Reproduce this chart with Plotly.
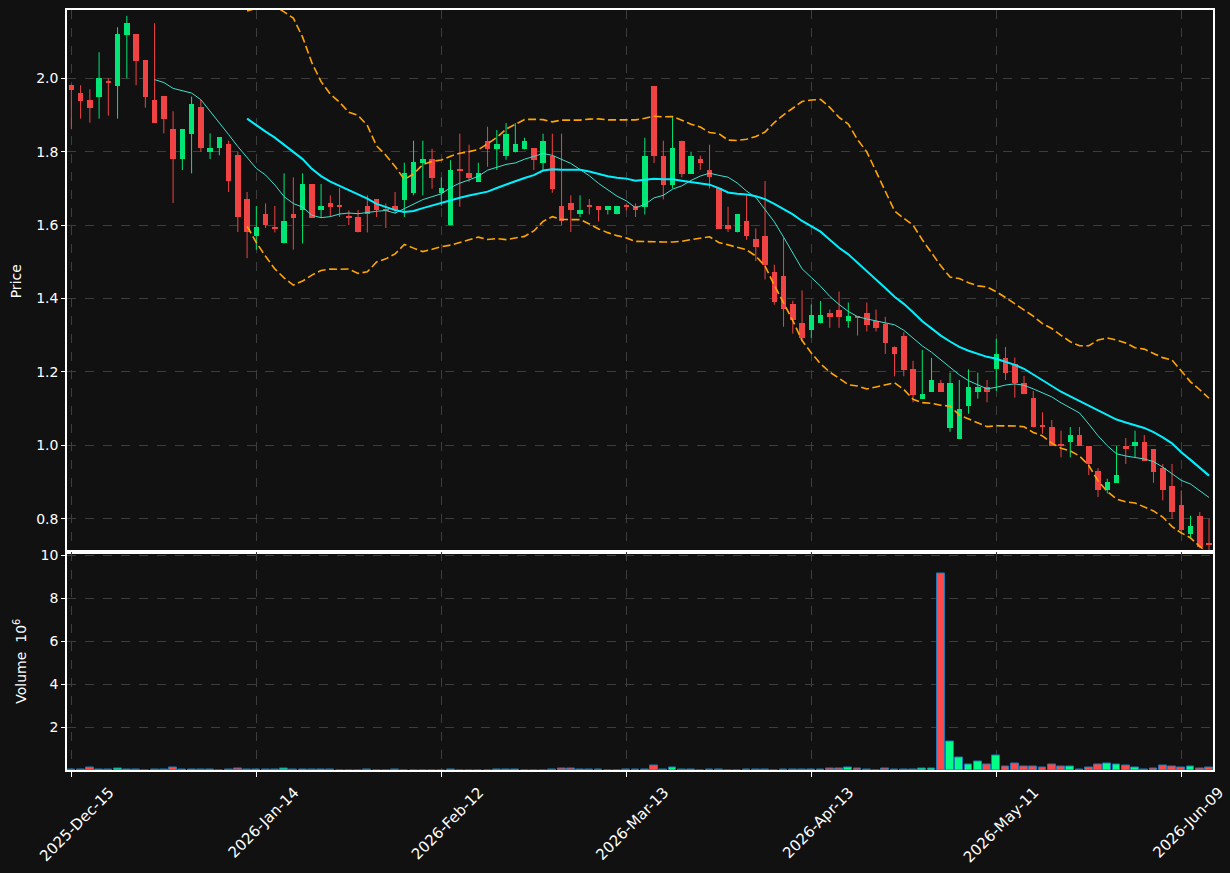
import pandas as pd
import plotly.graph_objects as go

# ---------------- data ----------------
holidays = ["2025-12-25", "2026-01-01", "2026-01-19", "2026-02-16", "2026-04-03", "2026-05-25"]
dates = [d for d in pd.bdate_range("2025-12-15", "2026-06-12") if d.strftime("%Y-%m-%d") not in holidays]

open_ = [1.982, 1.960, 1.941, 1.950, 1.990, 1.979, 2.118, 2.121, 2.050, 1.941,
         1.952, 1.862, 1.779, 1.849, 1.922, 1.800, 1.809, 1.821, 1.791, 1.672,
         1.569, 1.631, 1.593, 1.550, 1.631, 1.640, 1.712, 1.640, 1.660, 1.652,
         1.622, 1.622, 1.652, 1.670, 1.642, 1.652, 1.668, 1.688, 1.768, 1.779,
         1.688, 1.599, 1.751, 1.741, 1.718, 1.830, 1.806, 1.787, 1.798, 1.806,
         1.809, 1.769, 1.789, 1.652, 1.659, 1.629, 1.651, 1.651, 1.640, 1.629,
         1.651, 1.651, 1.650, 1.979, 1.789, 1.710, 1.830, 1.740, 1.779, 1.750,
         1.700, 1.600, 1.580, 1.611, 1.562, 1.571, 1.473, 1.462, 1.384, 1.332,
         1.313, 1.332, 1.360, 1.370, 1.339, 1.350, 1.360, 1.339, 1.330, 1.269,
         1.299, 1.207, 1.126, 1.146, 1.169, 1.047, 1.017, 1.107, 1.146, 1.159,
         1.207, 1.239, 1.221, 1.171, 1.130, 1.051, 1.051, 1.001, 1.008, 1.029,
         0.998, 0.929, 0.879, 0.898, 0.999, 0.998, 1.010, 0.990, 0.938, 0.890,
         0.837, 0.759, 0.808, 0.730]
high = [1.983, 1.981, 1.970, 2.071, 2.000, 2.139, 2.170, 2.121, 2.050, 2.150,
        1.952, 1.910, 1.862, 1.950, 1.941, 1.850, 1.840, 1.830, 1.800, 1.690,
        1.652, 1.659, 1.652, 1.741, 1.730, 1.741, 1.712, 1.712, 1.681, 1.701,
        1.640, 1.641, 1.681, 1.670, 1.659, 1.690, 1.770, 1.830, 1.830, 1.808,
        1.730, 1.777, 1.849, 1.819, 1.770, 1.868, 1.859, 1.878, 1.878, 1.838,
        1.809, 1.849, 1.849, 1.849, 1.681, 1.681, 1.671, 1.651, 1.651, 1.651,
        1.659, 1.659, 1.838, 1.979, 1.830, 1.897, 1.830, 1.800, 1.789, 1.819,
        1.700, 1.650, 1.630, 1.681, 1.591, 1.720, 1.492, 1.565, 1.394, 1.422,
        1.384, 1.393, 1.370, 1.419, 1.389, 1.350, 1.389, 1.370, 1.350, 1.269,
        1.308, 1.230, 1.260, 1.238, 1.178, 1.198, 1.178, 1.207, 1.198, 1.178,
        1.290, 1.268, 1.239, 1.189, 1.148, 1.090, 1.069, 1.040, 1.050, 1.050,
        0.998, 0.938, 0.909, 0.998, 1.020, 1.040, 1.028, 0.990, 0.949, 0.949,
        0.877, 0.808, 0.818, 0.800]
low = [1.861, 1.890, 1.879, 1.890, 1.898, 1.890, 2.000, 1.981, 1.920, 1.879,
       1.850, 1.660, 1.750, 1.741, 1.800, 1.780, 1.790, 1.690, 1.581, 1.510,
       1.533, 1.592, 1.580, 1.550, 1.533, 1.550, 1.620, 1.620, 1.622, 1.622,
       1.600, 1.580, 1.580, 1.622, 1.592, 1.631, 1.622, 1.681, 1.681, 1.699,
       1.652, 1.599, 1.650, 1.718, 1.718, 1.759, 1.750, 1.778, 1.798, 1.806,
       1.750, 1.750, 1.688, 1.599, 1.581, 1.622, 1.629, 1.610, 1.629, 1.629,
       1.640, 1.622, 1.629, 1.769, 1.670, 1.700, 1.730, 1.740, 1.750, 1.700,
       1.590, 1.581, 1.580, 1.560, 1.502, 1.452, 1.383, 1.323, 1.304, 1.284,
       1.293, 1.332, 1.320, 1.320, 1.320, 1.299, 1.310, 1.310, 1.249, 1.188,
       1.188, 1.117, 1.126, 1.146, 1.146, 1.037, 1.017, 1.086, 1.127, 1.117,
       1.148, 1.178, 1.130, 1.139, 1.049, 1.031, 0.998, 0.967, 0.967, 0.998,
       0.919, 0.859, 0.869, 0.898, 0.949, 0.967, 0.957, 0.898, 0.850, 0.800,
       0.759, 0.750, 0.719, 0.714]
close = [1.968, 1.939, 1.919, 2.001, 1.988, 2.121, 2.151, 2.047, 1.950, 1.879,
         1.890, 1.779, 1.862, 1.930, 1.809, 1.810, 1.840, 1.719, 1.621, 1.580,
         1.594, 1.599, 1.592, 1.612, 1.620, 1.712, 1.620, 1.652, 1.650, 1.651,
         1.621, 1.580, 1.629, 1.641, 1.641, 1.641, 1.741, 1.771, 1.779, 1.729,
         1.701, 1.750, 1.749, 1.729, 1.741, 1.806, 1.820, 1.849, 1.820, 1.830,
         1.777, 1.830, 1.698, 1.610, 1.640, 1.641, 1.650, 1.640, 1.651, 1.651,
         1.650, 1.640, 1.789, 1.789, 1.710, 1.809, 1.740, 1.789, 1.769, 1.730,
         1.590, 1.590, 1.630, 1.569, 1.540, 1.491, 1.391, 1.372, 1.342, 1.293,
         1.354, 1.354, 1.350, 1.350, 1.351, 1.349, 1.328, 1.320, 1.279, 1.248,
         1.206, 1.138, 1.139, 1.178, 1.146, 1.169, 1.098, 1.159, 1.159, 1.146,
         1.250, 1.198, 1.171, 1.139, 1.049, 1.050, 0.998, 0.999, 1.029, 0.998,
         0.949, 0.879, 0.899, 0.919, 0.989, 1.010, 0.957, 0.927, 0.879, 0.818,
         0.768, 0.779, 0.723, 0.729]
# volume in millions
volume = [0.02, 0.02, 0.13, 0.02, 0.02, 0.05, 0.02, 0.02, 0.00, 0.02,
          0.02, 0.13, 0.02, 0.02, 0.02, 0.02, 0.00, 0.02, 0.06, 0.02,
          0.02, 0.02, 0.02, 0.06, 0.02, 0.02, 0.02, 0.02, 0.02, 0.00,
          0.00, 0.00, 0.02, 0.00, 0.00, 0.02, 0.00, 0.00, 0.00, 0.00,
          0.00, 0.02, 0.00, 0.00, 0.00, 0.00, 0.02, 0.02, 0.02, 0.00,
          0.00, 0.00, 0.02, 0.06, 0.06, 0.02, 0.02, 0.02, 0.00, 0.00,
          0.02, 0.02, 0.02, 0.22, 0.02, 0.13, 0.02, 0.02, 0.00, 0.02,
          0.02, 0.00, 0.00, 0.02, 0.02, 0.02, 0.00, 0.02, 0.02, 0.02,
          0.02, 0.02, 0.08, 0.08, 0.13, 0.08, 0.02, 0.00, 0.08, 0.02,
          0.02, 0.02, 0.08, 0.08, 9.15, 1.33, 0.59, 0.26, 0.40, 0.26,
          0.68, 0.17, 0.31, 0.17, 0.17, 0.12, 0.26, 0.17, 0.17, 0.03,
          0.12, 0.26, 0.31, 0.26, 0.22, 0.12, 0.03, 0.08, 0.22, 0.17,
          0.12, 0.17, 0.08, 0.12]

tick_step = 20
tick_idx = list(range(0, len(dates), tick_step))
tick_labels = [dates[i].strftime("%Y-%b-%d") for i in tick_idx]

# ---------------- styles ----------------
BG = "#111111"
UP = "#00e676"
DOWN = "#f04343"
VUP = "#00ff88"
VDOWN = "#ff4848"
VEDGE = "#1f78b4"
GRID = "#3d3d3d"
FONT = "DejaVu Sans"
FS = 14

n = len(close)
idx = list(range(n))
s = pd.Series(close)
ma10 = s.rolling(10).mean()
ma20 = s.rolling(20).mean()
sd20 = s.rolling(20).std()
bb_up = ma20 + 2 * sd20
bb_lo = ma20 - 2 * sd20

fig = go.Figure()

# candle bodies and wicks
for up, col in ((True, UP), (False, DOWN)):
    sel = [i for i in idx if (close[i] >= open_[i]) == up]
    wx, wy = [], []
    for i in sel:
        wx += [i, i, None]
        wy += [low[i], high[i], None]
    fig.add_trace(go.Scatter(x=wx, y=wy, mode="lines", line=dict(color=col, width=1),
                             xaxis="x", yaxis="y", hoverinfo="skip"))
    fig.add_trace(go.Bar(x=sel,
                         base=[min(open_[i], close[i]) for i in sel],
                         y=[max(abs(close[i] - open_[i]), 0.003) for i in sel],
                         width=0.6, marker=dict(color=col, line=dict(width=0)),
                         xaxis="x", yaxis="y"))

# moving averages and bands
fig.add_trace(go.Scatter(x=idx, y=ma10, mode="lines", line=dict(color="#40e0d0", width=1),
                         xaxis="x", yaxis="y"))
fig.add_trace(go.Scatter(x=idx, y=ma20, mode="lines", line=dict(color="#00f0ff", width=2),
                         xaxis="x", yaxis="y"))
for band in (bb_up, bb_lo):
    fig.add_trace(go.Scatter(x=idx, y=band, mode="lines",
                             line=dict(color="#ffa500", width=1.6, dash="8px,3.5px"),
                             xaxis="x", yaxis="y"))

# volume
vcol = [VUP if close[i] >= open_[i] else VDOWN for i in idx]
fig.add_trace(go.Bar(x=idx, y=volume, width=0.85,
                     marker=dict(color=vcol, line=dict(color=VEDGE, width=1)),
                     xaxis="x2", yaxis="y2"))

axis_common = dict(showline=True, mirror=True, linecolor="white", linewidth=1.5,
                   showgrid=True, gridcolor=GRID, griddash="dash", gridwidth=1,
                   zeroline=False, tickfont=dict(color="white", size=FS, family=FONT),
                   ticks="outside", tickcolor="white", ticklen=4, automargin=False)

SPLIT = 0.2862

fig.update_layout(
    width=1230, height=873,
    margin=dict(l=67, r=17, t=10, b=103),
    paper_bgcolor=BG, plot_bgcolor=BG,
    showlegend=False, barmode="overlay", bargap=0,
    font=dict(family=FONT, color="white", size=FS),
    xaxis=dict(axis_common, domain=[0, 1], anchor="y", matches="x2",
               range=[-0.47, 123.43], tickvals=tick_idx,
               showticklabels=False, ticks=""),
    yaxis=dict(axis_common, domain=[SPLIT, 1], anchor="x", range=[0.708, 2.186],
               dtick=0.2, tick0=0, tickformat=".1f",
               title=dict(text="Price", font=dict(size=FS, color="white"), standoff=11)),
    xaxis2=dict(axis_common, domain=[0, 1], anchor="y2", range=[-0.47, 123.43],
                tickvals=tick_idx, ticktext=tick_labels, tickangle=-45, ticklen=5,
                tickfont=dict(color="white", size=15, family=FONT),
                ticklabelshift=38, ticklabelstandoff=1),
    yaxis2=dict(axis_common, domain=[0, SPLIT], anchor="x2", range=[0, 10.12],
                tickvals=[2, 4, 6, 8, 10],
                title=dict(text="Volume  10<sup>6</sup>", font=dict(size=FS, color="white"),
                           standoff=11)),
)

fig.write_html("out.html")
